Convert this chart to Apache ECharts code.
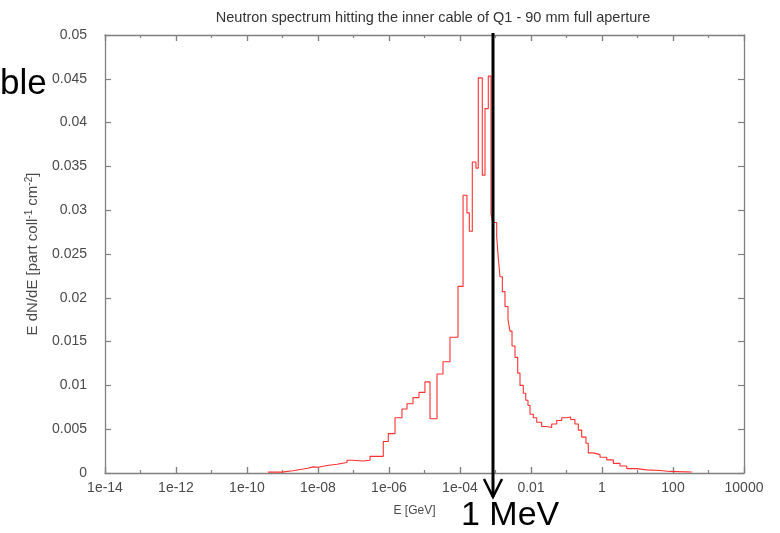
<!DOCTYPE html>
<html><head><meta charset="utf-8">
<script src="https://cdn.jsdelivr.net/npm/echarts@6/dist/echarts.min.js"></script>
<style>html,body{margin:0;padding:0;background:#fff}#c{width:780px;height:533px}</style>
</head><body><div id="c"></div>
<script>
const titleText = 'Neutron spectrum hitting the inner cable of Q1 - 90 mm full aperture';
const xAxisTitle = 'E [GeV]';
const xTickLabels = ['1e-14','1e-12','1e-10','1e-08','1e-06','1e-04','0.01','1','100','10000'];
const yTickLabels = ['0','0.005','0.01','0.015','0.02','0.025','0.03','0.035','0.04','0.045','0.05'];
const annotationText = '1 MeV';
const cutText = 'ble';

// lower bin edges (GeV); the last entry is the upper edge of the final bin
const binEdgesGeV = [
  3.9e-10, 9.7e-10, 1.98e-9, 3.78e-9, 5.22e-9, 7.23e-9, 1.0e-8, 1.8e-8, 3.43e-8, 6.56e-8,
  9.68e-8, 1.85e-7, 2.92e-7, 6.9e-7, 9.55e-7, 1.48e-6, 2.32e-6, 3.21e-6, 4.74e-6, 7.0e-6,
  1.03e-5, 1.43e-5, 2.25e-5, 3.32e-5, 5.22e-5, 8.79e-5, 1.22e-4, 1.57e-4, 1.83e-4, 2.22e-4,
  2.82e-4, 3.27e-4, 4.25e-4, 5.06e-4, 6.27e-4, 7.46e-4, 8.34e-4, 1.08e-3, 1.20e-3, 1.34e-3,
  1.56e-3, 1.85e-3, 2.25e-3, 2.56e-3, 2.92e-3, 3.54e-3, 4.22e-3, 4.90e-3, 6.07e-3, 7.10e-3,
  8.22e-3, 9.38e-3, 1.16e-2, 1.45e-2, 2.0e-2, 2.77e-2, 3.83e-2, 5.3e-2, 7.33e-2, 0.101,
  0.131, 0.173, 0.215, 0.268, 0.354, 0.411, 0.569, 0.879, 1.36, 2.08,
  3.21, 4.97, 9.48, 18.2, 43.0, 82.2, 336
];
// E dN/dE per bin
const fluence = [
  0.0001, 0.00026, 0.00045, 0.00055, 0.0007, 0.00065, 0.00085, 0.001, 0.0012, 0.00145,
  0.00137, 0.00145, 0.0019, 0.0036, 0.0045, 0.0063, 0.0073, 0.0079, 0.0086, 0.0092,
  0.0104, 0.0062, 0.0113, 0.0127, 0.0155, 0.0213, 0.0317, 0.0297, 0.0276, 0.0355,
  0.0348, 0.0451, 0.0340, 0.0416, 0.0453, 0.0296, 0.0286, 0.0270, 0.0245, 0.0224,
  0.0207, 0.0190, 0.0175, 0.0162, 0.0145, 0.0132, 0.0114, 0.0100, 0.0091, 0.0083,
  0.0077, 0.0067, 0.0063, 0.0058, 0.0053, 0.0052, 0.0056, 0.0060, 0.0063, 0.0064,
  0.0061, 0.0056, 0.0049, 0.0041, 0.0034, 0.0023, 0.0021, 0.0018, 0.0015, 0.0011,
  0.0008, 0.0005, 0.00036, 0.00028, 0.00018, 0.00012
];

const seriesData = fluence.map((v, i) => [binEdgesGeV[i], v]);
seriesData.push([binEdgesGeV[binEdgesGeV.length - 1], fluence[fluence.length - 1]]);

const FONT = '"Liberation Sans", Arial, sans-serif';
const AX = '#808080';
const LBL = '#4a4a4a';

const chart = echarts.init(document.getElementById('c'), null, {renderer: 'canvas'});

function logAxis(pos, showLabel) {
  return {
    type: 'log', logBase: 100, min: 1e-14, max: 1e4, splitNumber: 10, position: pos,
    axisLine: {show: true, onZero: false, lineStyle: {color: AX, width: 1.3}},
    axisTick: {show: true, inside: true, length: 6, lineStyle: {color: AX, width: 1.2}},
    axisLabel: {
      show: showLabel, color: LBL, fontFamily: FONT, fontSize: 14, margin: 8,
      formatter: v => { const e = Math.round(Math.log10(v)); const k = (e + 14) / 2; return xTickLabels[k] !== undefined ? xTickLabels[k] : ''; }
    },
    splitLine: {show: false}
  };
}
function minorAxis(pos) {
  return {
    type: 'value', min: -14, max: 4, interval: 2, position: pos,
    axisLine: {show: false, onZero: false},
    axisTick: {show: true, inside: true, length: 6, lineStyle: {color: AX, width: 1.2}},
    minorTick: {show: true, splitNumber: 2, length: 3, lineStyle: {color: AX, width: 1.2}},
    axisLabel: {show: false}, splitLine: {show: false}
  };
}

const xs = [logAxis('bottom', true), minorAxis('bottom'), logAxis('top', false), minorAxis('top')];
xs[0].name = xAxisTitle;
xs[0].nameLocation = 'middle';
xs[0].nameGap = 32;
xs[0].nameTextStyle = {color: LBL, fontFamily: FONT, fontSize: 12, padding: [0, 20, 0, 0]};

const yBase = (pos, showLabel) => ({
  type: 'value', min: 0, max: 0.05, interval: 0.005, position: pos,
  axisLine: {show: true, onZero: false, lineStyle: {color: AX, width: 1.3}},
  axisTick: {show: true, inside: true, length: 6, lineStyle: {color: AX, width: 1.2}},
  axisLabel: {show: showLabel, color: LBL, fontFamily: FONT, fontSize: 14, margin: 18,
    formatter: v => { const k = Math.round(v / 0.005); return yTickLabels[k] !== undefined ? yTickLabels[k] : ''; }},
  splitLine: {show: false}
});
const y0 = yBase('left', true);
y0.name = 'E dN/dE [part coll{sup|-1} cm{sup|-2}]';
y0.nameLocation = 'middle';
y0.nameGap = 64;
y0.nameTextStyle = {color: LBL, fontFamily: FONT, fontSize: 15,
  rich: {sup: {fontSize: 10, verticalAlign: 'top', color: LBL, fontFamily: FONT, padding: [0,0,7,0]}}};

const option = {
  backgroundColor: '#fff',
  animation: false,
  title: {text: titleText, left: 428, top: 5, textAlign: 'center',
    textStyle: {fontFamily: FONT, fontSize: 14.5, fontWeight: 'normal', color: '#333'}},
  grid: {left: 105, right: 36, top: 35, bottom: 60},
  xAxis: xs,
  yAxis: [y0, yBase('right', false)],
  series: [{
    type: 'line', xAxisIndex: 0, yAxisIndex: 0, step: 'end', showSymbol: false,
    data: seriesData, lineStyle: {color: '#ff3030', width: 1.1}, z: 3
  }],
  graphic: [
    {type: 'line', shape: {x1: 493, y1: 33, x2: 493, y2: 497}, style: {stroke: '#000', lineWidth: 3}, z: 10},
    {type: 'polyline', shape: {points: [[484, 479], [493, 497], [502, 479]]}, style: {stroke: '#000', lineWidth: 2.5, fill: null}, z: 10},
    {type: 'text', left: 461, top: 499, style: {text: annotationText, font: '34px "Liberation Sans", Arial, sans-serif', fill: '#000'}, z: 10},
    {type: 'text', left: 0, top: 67, style: {text: cutText, font: '35px "Liberation Sans", Arial, sans-serif', fill: '#000'}, z: 10}
  ]
};
chart.setOption(option);
</script>
</body></html>
